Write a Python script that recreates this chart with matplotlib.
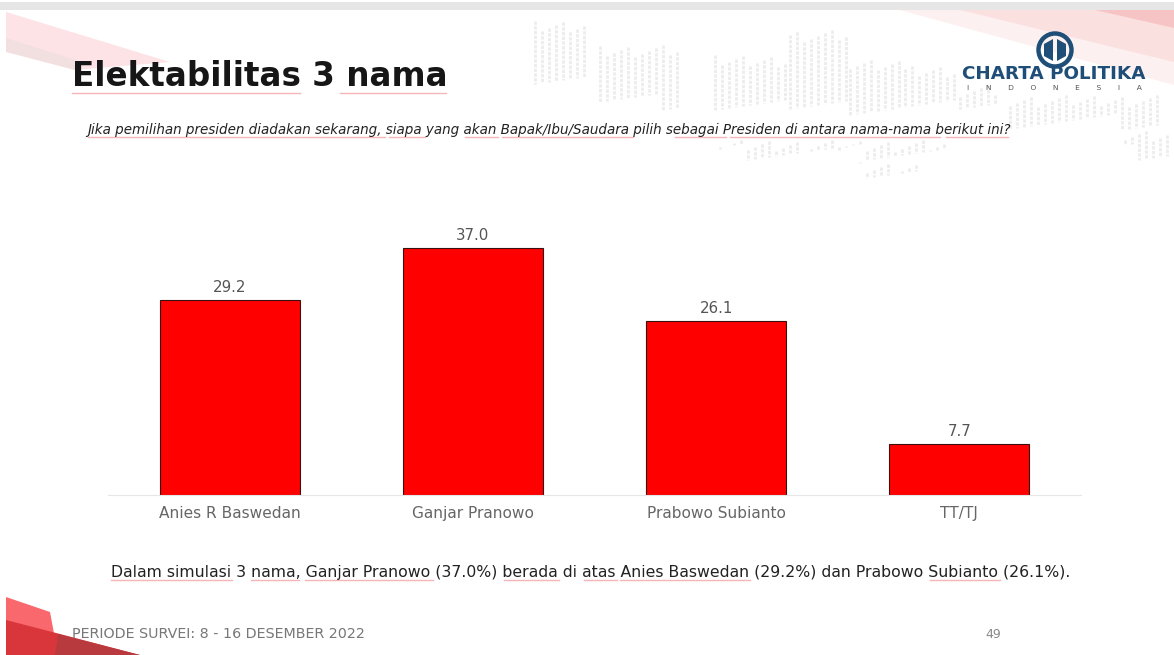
import matplotlib
matplotlib.use('Agg')
import matplotlib.pyplot as plt
from matplotlib.patches import Polygon, Rectangle, Circle

plt.rcParams['font.family'] = ['DejaVu Sans']

# data
kandidat = ['Anies R Baswedan', 'Ganjar Pranowo', 'Prabowo Subianto', 'TT/TJ']
nilai = [29.2, 37.0, 26.1, 7.7]

judul = 'Elektabilitas 3 nama'
pertanyaan = 'Jika pemilihan presiden diadakan sekarang, siapa yang akan Bapak/Ibu/Saudara pilih sebagai Presiden di antara nama-nama berikut ini?'
kesimpulan = 'Dalam simulasi 3 nama, Ganjar Pranowo (37.0%) berada di atas Anies Baswedan (29.2%) dan Prabowo Subianto (26.1%).'
periode = 'PERIODE SURVEI: 8 - 16 DESEMBER 2022'
halaman = '49'

W, H = 1174, 655
fig = plt.figure(figsize=(W / 100, H / 100), dpi=100)

# latar slide, pakai koordinat piksel
bg = fig.add_axes([0, 0, 1, 1])
bg.set_xlim(0, W)
bg.set_ylim(H, 0)
bg.axis('off')

bg.add_patch(Rectangle((0, 2), W, 8, color='#e6e6e6', lw=0))
bg.add_patch(Polygon([(6, 12), (170, 62), (75, 70), (6, 48)], color='#fde3e5', lw=0))
bg.add_patch(Polygon([(6, 38), (75, 60), (75, 70), (6, 52)], color='#f2dfe0', lw=0))
bg.add_patch(Polygon([(900, 10), (1174, 10), (1174, 85)], color='#fdf0f0', lw=0))
bg.add_patch(Polygon([(960, 10), (1174, 10), (1174, 62)], color='#fbe0e0', lw=0))
bg.add_patch(Polygon([(1095, 10), (1174, 10), (1174, 28)], color='#f6c4c4', lw=0))

# titik-titik peta di belakang (dekorasi)
peta = [(535, 590, 20, 90), (600, 680, 45, 110), (715, 790, 55, 115), (790, 850, 30, 115),
        (850, 905, 60, 115), (905, 960, 65, 110), (960, 1000, 85, 115), (1010, 1160, 95, 130),
        (1125, 1168, 130, 160), (720, 950, 140, 160), (860, 920, 162, 178)]
for x0, x1, y0, y1 in peta:
    for x in range(x0, x1, 7):
        bg.plot([x, x], [y0 + (x * 7) % 13, y1 - (x * 5) % 17], color='#ececec', lw=2, ls=(0, (1.2, 0.5)))

# sudut kiri bawah
bg.add_patch(Polygon([(6, 597), (50, 612), (58, 655), (6, 655)], color='#f9686c', lw=0))
bg.add_patch(Polygon([(6, 640), (6, 655), (140, 655), (60, 634), (6, 620)], color='#d9363b', lw=0))
bg.add_patch(Polygon([(55, 655), (58, 634), (140, 655)], color='#b83a3e', lw=0))

# logo
bg.add_patch(Circle((1055, 50), 16.5, fc='none', ec='#1f4f78', lw=3.2))
bg.add_patch(Polygon([(1053, 39), (1053, 61), (1044, 56), (1044, 44)], color='#1f4f78', lw=0))
bg.add_patch(Polygon([(1057, 39), (1057, 61), (1066, 56), (1066, 44)], color='#1f4f78', lw=0))
bg.text(1054, 74, 'CHARTA POLITIKA', fontsize=13.2, fontweight='bold', color='#1f4f78', ha='center', va='center')
bg.text(1054, 88, 'I       N       D       O       N       E       S       I       A', fontsize=5.4, color='#555555', ha='center', va='center')

# teks slide
bg.text(72, 76, judul, fontsize=23.5, fontweight='bold', color='#161616', ha='left', va='center')
bg.text(87, 130, pertanyaan, fontsize=9.76, fontstyle='italic', color='#222222', ha='left', va='center')
bg.text(111, 572, kesimpulan, fontsize=11.3, color='#222222', ha='left', va='center')
bg.text(72, 634, periode, fontsize=10.3, color='#777777', ha='left', va='center')
bg.text(993, 634, halaman, fontsize=9, color='#888888', ha='center', va='center')

# garis merah ejaan di bawah kata
garis_merah = [(72, 300, 93), (340, 446, 93), (88, 385, 137), (389, 425, 137), (465, 498, 137), (502, 633, 137),
               (675, 726, 137), (730, 940, 137), (946, 1008, 137), (111, 232, 580), (251, 299, 580),
               (305, 433, 580), (504, 559, 580), (584, 617, 580), (620, 750, 580), (930, 1000, 580)]
for x0, x1, y in garis_merah:
    bg.plot([x0, x1], [y, y], color='#f5b5b9', lw=1)

# grafik batang
ax = fig.add_axes([108 / W, 1 - 495 / H, 973 / W, 280 / H])
ax.patch.set_alpha(0)
posisi = range(len(kandidat))
batang = ax.bar(posisi, nilai, width=0.575, color='#ff0000', edgecolor='#3a1010', linewidth=0.8)
ax.bar_label(batang, labels=[f'{v:.1f}' for v in nilai], padding=3.5, fontsize=10.8, color='#555555')
ax.set_xlim(-0.5, 3.5)
ax.set_ylim(0, 280 / (247 / 37))
ax.set_xticks(list(posisi))
ax.set_xticklabels(kandidat, fontsize=11.1, color='#666666')
ax.tick_params(axis='x', length=0, pad=8)
ax.set_yticks([])
for s in ['top', 'left', 'right']:
    ax.spines[s].set_visible(False)
ax.spines['bottom'].set_color('#e6e6e6')

fig.savefig('out.png', dpi=100)
